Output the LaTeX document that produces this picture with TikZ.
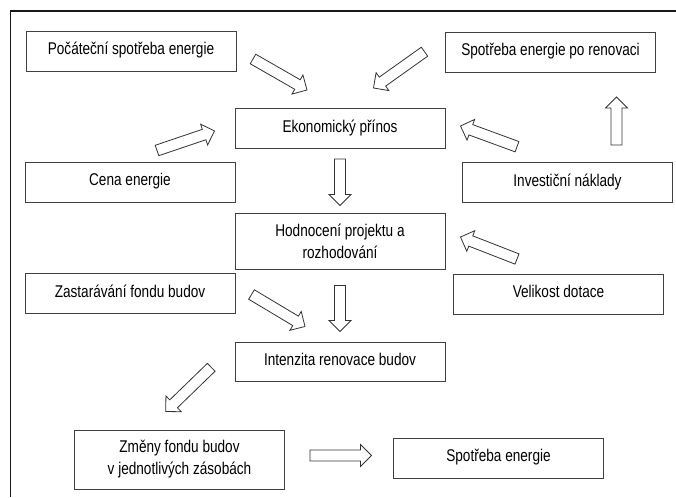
\documentclass[tikz,border=0pt]{standalone}
\usepackage{fontspec}
\setmainfont{Liberation Sans}[FakeStretch=0.8]
\usepackage{tikz}
\usetikzlibrary{calc}

\begin{document}
\begin{tikzpicture}
            [x=1pt, y=-1pt,
            box/.style={draw=black!75, line width=1pt, rectangle, align=center,
                minimum width=210pt, minimum height=40pt, inner sep=2pt,
                text height=11.5pt, text depth=4.5pt,
                font=\fontsize{17}{22}\selectfont},
            twoline/.style={text height={}, text depth={}},
            frame/.style={draw=black!90, line width=1.4pt},
            hollow/.style={draw=black!80, fill=white, line width=0.8pt, line join=miter,
                to path={let \p1=(\tikztostart), \p2=(\tikztotarget) in
                    ($(\p1)!5.5pt!90:(\p2)$) --
                    ($($(\p2)!11pt!(\p1)$)!5.5pt!90:(\p2)$) --
                    ($($(\p2)!11pt!(\p1)$)!11pt!90:(\p2)$) --
                    (\p2) --
                    ($($(\p2)!11pt!(\p1)$)!11pt!-90:(\p2)$) --
                    ($($(\p2)!11pt!(\p1)$)!5.5pt!-90:(\p2)$) --
                    ($(\p1)!5.5pt!-90:(\p2)$) -- cycle}}]

            \useasboundingbox (0,0) rectangle (676,497);
            \draw[frame] (10.5,497) -- (10.5,11) -- (676,11);

            \node[box] (poc) at (131,51.5) {Počáteční spotřeba energie};
            \node[box] (renov) at (550.5,52.5) {Spotřeba energie po renovaci};
            \node[box] (eko) at (340,128.5) {Ekonomický přínos};
            \node[box] (cena) at (130,182) {Cena energie};
            \node[box] (inv) at (567.5,182.5) {Investiční náklady};
            \node[box, twoline, minimum height=56pt] (hodn) at (340,241) {Hodnocení projektu a\\rozhodování};
            \node[box] (zast) at (130,293.5) {Zastarávání fondu budov};
            \node[box] (vel) at (558.5,294) {Velikost dotace};
            \node[box, minimum height=39pt] (int) at (340,361.5) {Intenzita renovace budov};
            \node[box, twoline, minimum height=59pt] (zmeny) at (179.5,459.5) {Změny fondu budov\\v jednotlivých zásobách};
            \node[box] (spot) at (498.5,458) {Spotřeba energie};

            \draw[hollow] ($(poc.east)+(16.5,7.5)$) to ($(eko.north)+(-33,-18)$);
            \draw[hollow] ($(renov.west)+(-20.5,-0.8)$) to ($(eko.north)+(33.5,-20)$);
            \draw[hollow] ($(cena.north)+(27,-11)$) to ($(eko.west)+(-20,2.5)$);
            \draw[hollow] ($(inv.north)+(-50.5,-15.3)$) to ($(eko.east)+(15,-2.5)$);
            \draw[hollow] ($(inv.north)+(49,-17)$) to ($(renov.south)+(66,24)$);
            \draw[hollow] ($(eko.south)+(0,10)$) to ($(hodn.north)+(0,-7)$);
            \draw[hollow] ($(vel.north)+(-41.5,-14.5)$) to ($(hodn.east)+(15,-4)$);
            \draw[hollow] ($(hodn.south)+(0,16)$) to ($(int.north)+(0,-10)$);
            \draw[hollow] ($(zast.east)+(16,1)$) to ($(int.north)+(-35,-15)$);
            \draw[hollow] ($(int.west)+(-23.3,5.8)$) to ($(zmeny.north)+(-13.8,-18)$);
            \draw[hollow] ($(zmeny.east)+(25,-4)$) to ($(spot.west)+(-21.5,-2.5)$);
        \end{tikzpicture}
\end{document}
